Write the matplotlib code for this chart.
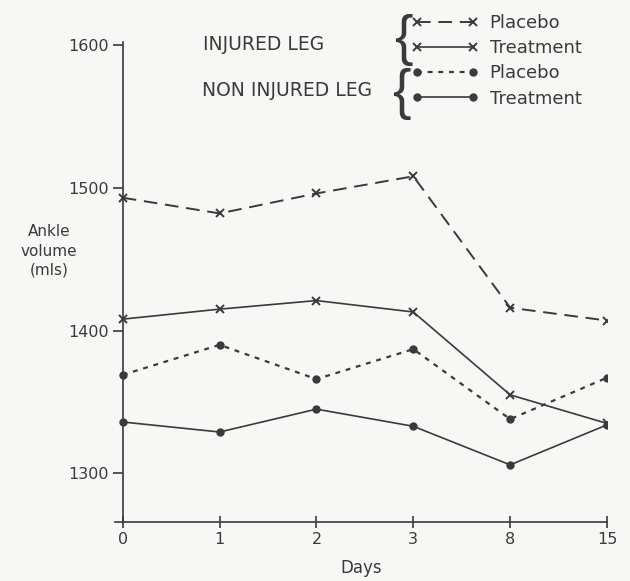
import matplotlib.pyplot as plt

days = ['0', '1', '2', '3', '8', '15']
injured_placebo = [1493, 1482, 1496, 1508, 1416, 1407]
injured_treatment = [1408, 1415, 1421, 1413, 1355, 1335]
non_injured_placebo = [1369, 1390, 1366, 1387, 1338, 1367]
non_injured_treatment = [1336, 1329, 1345, 1333, 1306, 1334]
y_ticks = [1300, 1400, 1500, 1600]

ink = '#3a3a3a'
plt.rcParams['font.family'] = ['DejaVu Sans']
plt.rcParams['text.color'] = ink

fig = plt.figure(figsize=(6.3, 5.81), dpi=100)
fig.patch.set_facecolor('#f7f7f5')
ax = fig.add_axes([115 / 630, 1 - 522 / 581, (607 - 115) / 630, (522 - 42) / 581])
ax.set_facecolor('none')

x = range(len(days))
h_ip, = ax.plot(x, injured_placebo, color=ink, lw=1.4, dashes=(7, 4),
                marker='x', ms=6, mew=1.4, label='Placebo')
h_it, = ax.plot(x, injured_treatment, color=ink, lw=1.2,
                marker='x', ms=6, mew=1.4, label='Treatment')
h_np, = ax.plot(x, non_injured_placebo, color=ink, lw=1.6, dashes=(2.2, 2.6),
                marker='o', ms=5, label='Placebo')
h_nt, = ax.plot(x, non_injured_treatment, color=ink, lw=1.2,
                marker='o', ms=5, label='Treatment')

ax.set_xlim(-0.08, 5)
ax.set_ylim(1266, 1602)
ax.set_xticks(list(x))
ax.set_xticklabels(days)
ax.set_yticks(y_ticks)

for s in ['top', 'right']:
    ax.spines[s].set_visible(False)
for s in ['left', 'bottom']:
    ax.spines[s].set_color(ink)
    ax.spines[s].set_linewidth(1.2)
ax.spines['left'].set_position(('data', 0))
ax.tick_params(axis='y', direction='out', length=7, width=1.2, colors=ink,
               labelsize=11.5, pad=3)
ax.tick_params(axis='x', direction='inout', length=8, width=1.2, colors=ink,
               labelsize=11.5, pad=3)

ax.set_xlabel('Days', fontsize=12, color=ink, labelpad=9)
fig.text(49 / 630, 1 - 251 / 581, 'Ankle\nvolume\n(mls)', ha='center', va='center',
         fontsize=11, color=ink, linespacing=1.35)

leg = ax.legend(handles=[h_ip, h_it, h_np, h_nt], loc='upper left',
                bbox_to_anchor=(412 / 630, 1 - 14 / 581), bbox_transform=fig.transFigure,
                frameon=False, numpoints=2, handlelength=3.7, handletextpad=0.6,
                labelspacing=0.4, fontsize=13, borderaxespad=0, borderpad=0)
for t in leg.get_texts():
    t.set_color(ink)

fig.text(203 / 630, 1 - 44 / 581, 'INJURED LEG', ha='left', va='center',
         fontsize=13.5, color=ink)
fig.text(202 / 630, 1 - 90 / 581, 'NON INJURED LEG', ha='left', va='center',
         fontsize=13.5, color=ink)
fig.text(403 / 630, 1 - 40 / 581, '{', ha='center', va='center',
         fontsize=40, color=ink, family='Liberation Sans')
fig.text(401 / 630, 1 - 94 / 581, '{', ha='center', va='center',
         fontsize=40, color=ink, family='Liberation Sans')

fig.savefig('out.png', dpi=100, facecolor=fig.get_facecolor())
